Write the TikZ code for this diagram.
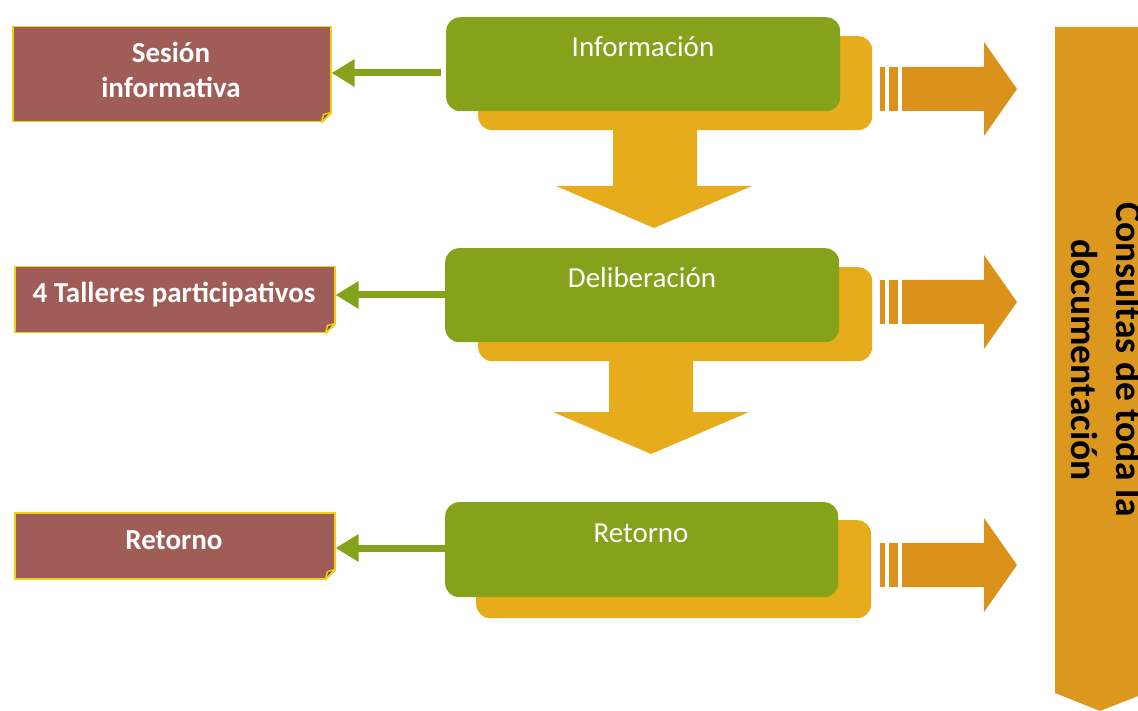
\documentclass[tikz,border=0pt]{standalone}
\usepackage{fontspec}
\setmainfont{Carlito}
\usetikzlibrary{arrows.meta}
\definecolor{cgreen}{RGB}{132,162,26}
\definecolor{cyellow}{RGB}{230,172,28}
\definecolor{corange}{RGB}{219,146,26}
\definecolor{cbig}{RGB}{220,152,30}
\definecolor{cbrown}{RGB}{160,92,87}
\definecolor{cborder}{RGB}{240,208,20}
\definecolor{cfold}{RGB}{120,70,60}
\begin{document}
\begin{tikzpicture}[x=1pt,y=-1pt,
  greenbox/.style={fill=cgreen, rounded corners=14pt, minimum width=394pt, minimum height=94pt, inner sep=0pt, anchor=north west},
  yellowbox/.style={fill=cyellow, rounded corners=14pt, minimum width=394pt, minimum height=94pt, inner sep=0pt, anchor=north west},
  gtext/.style={text=white, font=\fontsize{29}{34}\selectfont, anchor=base, inner sep=0pt},
  brownbox/.style={fill=cbrown, draw=cborder, line width=1.5pt, inner sep=0pt, anchor=north west},
  btext/.style={text=white, font=\bfseries\fontsize{29}{35}\selectfont, anchor=base, inner sep=0pt},
  garrow/.style={draw=cgreen, line width=7pt, -{Triangle[length=23pt,width=26pt]}},
  fillarrow/.style={fill=cyellow, draw=none},
  orarrow/.style={fill=corange, draw=none}
]
\useasboundingbox (0,0) rectangle (1138,711);
\clip (0,0) rectangle (1138,711);

% yellow shadow boxes
\node (y1) [yellowbox] at (478,36) {};
\node (y2) [yellowbox] at (478,267) {};
\node (y3) [yellowbox, minimum width=395pt, minimum height=98pt] at (476,520) {};

% down arrows
\fill[fillarrow] (613,128) -- (697,128) -- (697,186) -- (752,186) -- (654,228) -- (556,186) -- (613,186) -- cycle;
\fill[fillarrow] (609,359) -- (693,359) -- (693,412) -- (749,412) -- (651,454) -- (553,412) -- (609,412) -- cycle;

% green boxes
\node (g1) [greenbox] at (446,17) {};
\node (g2) [greenbox] at (445,248) {};
\node (g3) [greenbox, minimum width=393pt, minimum height=95pt] at (445,502) {};
\node (t1) [gtext] at (643,57) {Información};
\node (t2) [gtext] at (642,288) {Deliberación};
\node (t3) [gtext] at (641,542) {Retorno};

% brown boxes
\node (b1) [brownbox, minimum width=318pt, minimum height=95pt] at (12,26) {};
\node (b2) [brownbox, minimum width=320pt, minimum height=66pt] at (14,266) {};
\node (b3) [brownbox, minimum width=320pt, minimum height=66pt] at (14,512) {};
\node (s1a) [btext] at (171,63) {Sesión};
\node (s1b) [btext] at (171,98) {informativa};
\node (s2) [btext] at (174,303) {4 Talleres participativos};
\node (s3) [btext] at (174,549) {Retorno};

% folded corners
\foreach \b in {b1,b2,b3}{
  \fill[white] (\b.south east) ++(1,1) -- ++(-12,0) -- ++(12,-12) -- cycle;
  \draw[cborder, line width=1.5pt, fill=cfold, line join=round] (\b.south east) ++(-10,0) -- ++(10,-10) -- ++(-8,2) -- cycle;
  \draw[cborder, line width=1.5pt] (\b.south east) ++(-10,0) -- ++(10,-10);
}

% green arrows
\draw[garrow] (441,73) -- (b1.east |- 0,73);
\draw[garrow] (g2.west |- 0,295) -- (b2.east |- 0,295);
\draw[garrow] (g3.west |- 0,548) -- (b3.east |- 0,548);

% orange right arrows
\foreach \yc in {89,302,565}{
  \fill[orarrow] (880,\yc-22) rectangle (885,\yc+22);
  \fill[orarrow] (889,\yc-22) rectangle (898,\yc+22);
  \fill[orarrow] (902,\yc-22) -- (984,\yc-22) -- (984,\yc-47) -- (1017,\yc) -- (984,\yc+47) -- (984,\yc+22) -- (902,\yc+22) -- cycle;
}

% big arrow
\fill[cbig] (1055,27) -- (1146,27) -- (1146,693) -- (1100,711) -- (1055,693) -- cycle;
\node (big) [rotate=-90, font=\bfseries\fontsize{37.5}{45}\selectfont, align=center, inner sep=0pt] at (1107,360) {Consultas de toda la\\documentación};
\end{tikzpicture}
\end{document}
